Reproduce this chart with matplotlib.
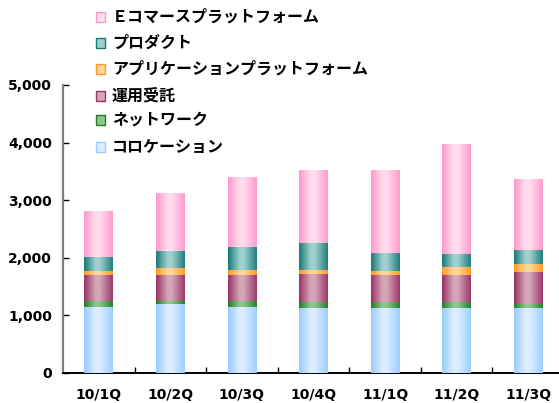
import numpy as np
import matplotlib
matplotlib.use("Agg")
import matplotlib.pyplot as plt
from matplotlib.colors import LinearSegmentedColormap
from matplotlib.ticker import FuncFormatter

plt.rcParams["font.family"] = ["Noto Sans CJK JP", "DejaVu Sans"]

quarters = ["10/1Q", "10/2Q", "10/3Q", "10/4Q", "11/1Q", "11/2Q", "11/3Q"]

# stacked from the bottom up
colocation = [1150, 1190, 1150, 1135, 1135, 1135, 1135]
network = [105, 65, 105, 90, 90, 90, 70]
operation = [455, 455, 455, 490, 470, 470, 540]
app_platform = [60, 105, 75, 70, 70, 140, 140]
product = [240, 297, 396, 470, 315, 225, 245]
ecommerce = [810, 1012, 1222, 1275, 1445, 1920, 1240]

labels = ["コロケーション", "ネットワーク", "運用受託",
          "アプリケーションプラットフォーム", "プロダクト", "Ｅコマースプラットフォーム"]

# (edge colour, centre highlight colour)
shades = [("#99ccff", "#dcedff"),
          ("#1f7f1f", "#8cc68c"),
          ("#993366", "#d4a6b8"),
          ("#ff9922", "#ffd699"),
          ("#1a7a7a", "#9fd0cc"),
          ("#ff99cc", "#ffdcee")]

series = [colocation, network, operation, app_platform, product, ecommerce]

fig = plt.figure(figsize=(5.59, 4.03), dpi=100)
ax = fig.add_axes([63 / 559, 30 / 403, 501 / 559, 288 / 403])

x = np.arange(len(quarters))
bottom = np.zeros(len(quarters))
grad = np.linspace(0, 1, 64)
profile = np.interp(grad, [0, 0.4, 0.55, 1], [0, 1, 1, 0.05])[None, :]

for vals, (edge, mid) in zip(series, shades):
    bars = ax.bar(x, vals, width=0.4, bottom=bottom, color=edge, linewidth=0, zorder=2)
    cmap = LinearSegmentedColormap.from_list("g", [edge, mid])
    for b in bars:
        bx, by = b.get_x(), b.get_y()
        im = ax.imshow(profile, cmap=cmap, vmin=0, vmax=1, aspect="auto",
                       extent=(bx, bx + b.get_width(), by, by + b.get_height()),
                       zorder=3, interpolation="bilinear")
        im.set_clip_path(b)
    bottom += np.array(vals)

ax.set_xlim(-0.5, len(quarters) - 0.5)
ax.set_ylim(0, 5000)
ax.set_yticks(range(0, 5001, 1000))
ax.yaxis.set_major_formatter(FuncFormatter(lambda v, p: f"{int(v):,}"))
ax.set_xticks(x)
ax.set_xticklabels(quarters)
ax.set_xticks(np.arange(len(quarters)) + 0.5, minor=True)
ax.tick_params(axis="x", which="major", length=0, pad=11)
ax.tick_params(axis="x", which="minor", direction="in", length=4, width=1, color="black")
ax.tick_params(axis="y", direction="in", length=4, width=1, color="black", pad=8)
for lbl in ax.get_xticklabels() + ax.get_yticklabels():
    lbl.set_family("DejaVu Sans")
    lbl.set_fontweight("bold")
    lbl.set_fontsize(10)

for s in ["top", "right"]:
    ax.spines[s].set_visible(False)
ax.spines["left"].set_color("#808080")
ax.spines["left"].set_linewidth(1.6)
ax.spines["bottom"].set_color("black")
ax.spines["bottom"].set_linewidth(1.4)

# legend, top entry first
legend_y = [147, 120, 96, 69, 43, 17]
for lab, (edge, mid), ly in zip(labels, shades, legend_y):
    fig.patches.append(plt.Rectangle((96 / 559, 1 - (ly + 5) / 403), 9 / 559, 10 / 403,
                                     transform=fig.transFigure, facecolor=mid,
                                     edgecolor=edge, linewidth=1.0))
    fig.text(112 / 559, 1 - ly / 403, lab, fontsize=11.5, fontweight="bold",
             va="center", ha="left")

fig.savefig("out.png", dpi=100)
